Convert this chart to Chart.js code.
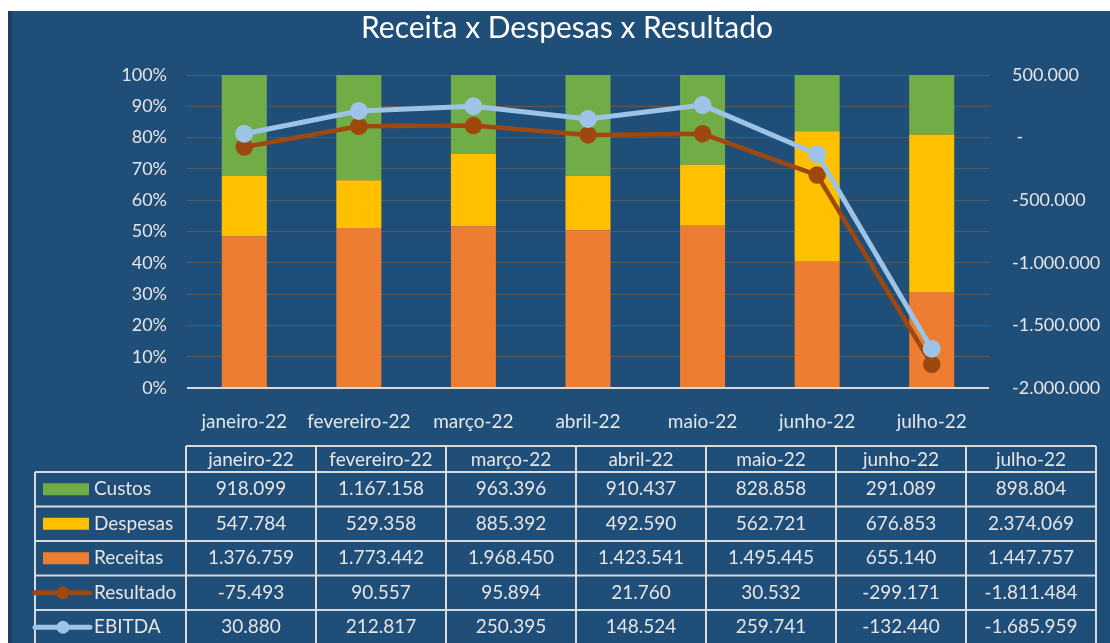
<!DOCTYPE html>
<html>
<head>
<meta charset="utf-8">
<script src="https://cdn.jsdelivr.net/npm/chart.js@4"></script>
<style>
  body { margin: 0; background: #fff; }
  #wrap { width: 1110px; height: 643px; }
</style>
</head>
<body>
<div id="wrap"><canvas id="grafico" width="1110" height="643"></canvas></div>
<script>
// dados do grafico
const meses = ['janeiro-22', 'fevereiro-22', 'março-22', 'abril-22', 'maio-22', 'junho-22', 'julho-22'];
const custos = [918099, 1167158, 963396, 910437, 828858, 291089, 898804];
const despesas = [547784, 529358, 885392, 492590, 562721, 676853, 2374069];
const receitas = [1376759, 1773442, 1968450, 1423541, 1495445, 655140, 1447757];
const resultado = [-75493, 90557, 95894, 21760, 30532, -299171, -1811484];
const ebitda = [30880, 212817, 250395, 148524, 259741, -132440, -1685959];
const ticksPct = [0, 10, 20, 30, 40, 50, 60, 70, 80, 90, 100];
const ticksValor = [500000, 0, -500000, -1000000, -1500000, -2000000];

const FONTE = 'Lato, "Open Sans", sans-serif';
const AZUL = '#1F4E79';
const COR_TEXTO = '#E7E6E6';

// formato 1.234.567
function fmt(n) {
    const s = Math.abs(Math.round(n)).toString().replace(/\B(?=(\d{3})+(?!\d))/g, '.');
    return (n < 0 ? '-' : '') + s;
}

// 100% empilhado
const totais = meses.map((m, i) => custos[i] + despesas[i] + receitas[i]);
const pct = arr => arr.map((v, i) => v / totais[i] * 100);

// linhas da tabela de dados
const linhasTabela = [
    { nome: 'Custos', valores: custos, cor: '#70AD47', tipo: 'barra' },
    { nome: 'Despesas', valores: despesas, cor: '#FFC000', tipo: 'barra' },
    { nome: 'Receitas', valores: receitas, cor: '#ED7D31', tipo: 'barra' },
    { nome: 'Resultado', valores: resultado, cor: '#9E480E', tipo: 'linha' },
    { nome: 'EBITDA', valores: ebitda, cor: '#9DC3E6', tipo: 'linha' }
];

const fundo = {
    id: 'fundo',
    beforeDraw(chart) {
        const ctx = chart.ctx;
        ctx.save();
        ctx.fillStyle = '#ffffff';
        ctx.fillRect(0, 0, chart.width, chart.height);
        ctx.fillStyle = AZUL;
        ctx.fillRect(8, 11, chart.width - 8, chart.height - 11);
        ctx.fillStyle = '#1B3D66';
        ctx.fillRect(8, 11, 4, chart.height - 11);
        // titulo
        ctx.fillStyle = '#ffffff';
        ctx.font = '30px ' + FONTE;
        ctx.textAlign = 'center';
        ctx.textBaseline = 'middle';
        ctx.fillText('Receita x Despesas x Resultado', 567, 28);
        ctx.restore();
    }
};

const tabela = {
    id: 'tabela',
    afterDraw(chart) {
        const ctx = chart.ctx;
        const x0 = 186, colW = 130, xLeg = 35;
        const yHead = 446, yRow = 472, rowH = 34.5;
        const xFim = x0 + colW * meses.length;
        const yFim = yRow + rowH * linhasTabela.length;
        ctx.save();
        ctx.strokeStyle = '#D9D9D9';
        ctx.lineWidth = 2;
        ctx.beginPath();
        // horizontais
        ctx.moveTo(x0, yHead); ctx.lineTo(xFim, yHead);
        for (let r = 0; r <= linhasTabela.length; r++) {
            const y = yRow + r * rowH;
            ctx.moveTo(xLeg, y); ctx.lineTo(xFim, y);
        }
        // verticais
        ctx.moveTo(xLeg, yRow); ctx.lineTo(xLeg, yFim);
        for (let c = 0; c <= meses.length; c++) {
            const x = x0 + c * colW;
            ctx.moveTo(x, yHead); ctx.lineTo(x, yFim);
        }
        ctx.stroke();

        ctx.font = '19px ' + FONTE;
        ctx.fillStyle = COR_TEXTO;
        ctx.textBaseline = 'middle';
        ctx.textAlign = 'center';
        meses.forEach((m, c) => ctx.fillText(m, x0 + c * colW + colW / 2, (yHead + yRow) / 2 + 1));

        linhasTabela.forEach((linha, r) => {
            const yc = yRow + r * rowH + rowH / 2;
            // legenda
            if (linha.tipo === 'barra') {
                ctx.fillStyle = linha.cor;
                ctx.fillRect(43, yc - 6, 46, 12);
            } else {
                ctx.strokeStyle = linha.cor;
                ctx.lineWidth = 5;
                ctx.lineCap = 'round';
                ctx.beginPath();
                ctx.moveTo(35, yc); ctx.lineTo(90, yc);
                ctx.stroke();
                ctx.fillStyle = linha.cor;
                ctx.beginPath();
                ctx.arc(63, yc, 6.5, 0, Math.PI * 2);
                ctx.fill();
            }
            ctx.fillStyle = COR_TEXTO;
            ctx.textAlign = 'left';
            ctx.fillText(linha.nome, 94, yc);
            ctx.textAlign = 'center';
            linha.valores.forEach((v, c) => ctx.fillText(fmt(v), x0 + c * colW + colW / 2, yc));
        });
        ctx.restore();
    }
};

const ctx = document.getElementById('grafico').getContext('2d');
new Chart(ctx, {
    type: 'bar',
    data: {
        labels: meses,
        datasets: [
            {
                type: 'line', label: 'EBITDA', data: ebitda, yAxisID: 'y1', order: 0,
                borderColor: '#9DC3E6', backgroundColor: '#9DC3E6', borderWidth: 5,
                pointRadius: 6.5, pointHoverRadius: 6.5, tension: 0
            },
            {
                type: 'line', label: 'Resultado', data: resultado, yAxisID: 'y1', order: 1,
                borderColor: '#9E480E', backgroundColor: '#9E480E', borderWidth: 4.5,
                pointRadius: 6.5, pointHoverRadius: 6.5, tension: 0
            },
            { label: 'Receitas', data: pct(receitas), backgroundColor: '#ED7D31', stack: 's', order: 2 },
            { label: 'Despesas', data: pct(despesas), backgroundColor: '#FFC000', stack: 's', order: 2 },
            { label: 'Custos', data: pct(custos), backgroundColor: '#70AD47', stack: 's', order: 2 }
        ]
    },
    options: {
        responsive: false,
        animation: false,
        layout: { padding: { top: 75, left: 0, right: 0, bottom: 0 } },
        plugins: {
            legend: { display: false },
            tooltip: { enabled: false },
            title: { display: false }
        },
        datasets: {
            bar: { categoryPercentage: 1, barPercentage: 0.393 }
        },
        scales: {
            x: {
                stacked: true,
                grid: { display: false },
                border: { display: false },
                ticks: { color: COR_TEXTO, font: { family: FONTE, size: 19 }, padding: 14, maxRotation: 0 },
                afterFit(s) { s.height = 255; }
            },
            y: {
                stacked: true,
                min: 0, max: 100,
                afterBuildTicks(s) { s.ticks = ticksPct.map(v => ({ value: v })); },
                grid: {
                    drawTicks: false,
                    color: c => c.tick && c.tick.value === 0 ? '#D9D9D9' : '#595959',
                    lineWidth: c => c.tick && c.tick.value === 0 ? 2 : 1
                },
                border: { display: false },
                ticks: {
                    color: COR_TEXTO, font: { family: FONTE, size: 18 }, padding: 20,
                    callback: v => v + '%'
                },
                afterFit(s) { s.width = 187; }
            },
            y1: {
                position: 'right',
                min: -2000000, max: 500000,
                afterBuildTicks(s) { s.ticks = ticksValor.map(v => ({ value: v })); },
                grid: { display: false, drawTicks: false },
                border: { display: false },
                ticks: {
                    color: COR_TEXTO, font: { family: FONTE, size: 18 }, padding: 23,
                    callback: v => v === 0 ? ' -' : fmt(v)
                },
                afterFit(s) { s.width = 121; }
            }
        }
    },
    plugins: [fundo, tabela]
});
</script>
</body>
</html>
